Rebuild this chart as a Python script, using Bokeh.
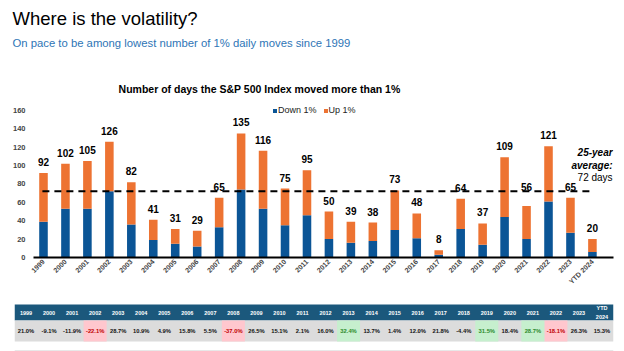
import math
from bokeh.plotting import figure
from bokeh.models import ColumnDataSource, Range1d, FixedTicker, Legend, LegendItem
from bokeh.layouts import column
from bokeh.core.properties import value
from bokeh.embed import file_html
from bokeh.resources import INLINE

# ---------------- data ----------------
years = ["1999", "2000", "2001", "2002", "2003", "2004", "2005", "2006", "2007",
         "2008", "2009", "2010", "2011", "2012", "2013", "2014", "2015", "2016",
         "2017", "2018", "2019", "2020", "2021", "2022", "2023", "YTD 2024"]
down_days = [39, 53, 53, 72, 36, 19, 15, 12, 33, 74, 53, 35, 46, 20, 16, 18, 30,
             21, 3, 31, 14, 44, 20, 61, 27, 6]
up_days = [53, 49, 52, 54, 46, 22, 16, 17, 32, 61, 63, 40, 49, 30, 23, 20, 43,
           27, 5, 33, 23, 65, 36, 60, 38, 14]
total_days = [92, 102, 105, 126, 82, 41, 31, 29, 65, 135, 116, 75, 95, 50, 39, 38,
              73, 48, 8, 64, 37, 109, 56, 121, 65, 20]
avg_days = 72
y_ticks = [0, 20, 40, 60, 80, 100, 120, 140, 160]

table_years = years[:-1] + ["YTD\n2024"]
returns = [21.0, -9.1, -11.9, -22.1, 28.7, 10.9, 4.9, 15.8, 5.5, -37.0, 26.5, 15.1,
           2.1, 16.0, 32.4, 13.7, 1.4, 12.0, 21.8, -4.4, 31.5, 18.4, 28.7, -18.1,
           26.3, 15.3]
best_years = ["2013", "2019", "2021"]
worst_years = ["2002", "2008", "2022"]

FONT = value("Liberation Sans")
BLUE = "#0b5596"
ORANGE = "#ed7332"
W = 624

# ---------------- header ----------------
hdr = figure(width=W, height=98, output_backend="svg", toolbar_location=None,
             x_range=Range1d(0, W), y_range=Range1d(98, 0),
             x_axis_location=None, y_axis_location=None,
             min_border_left=0, min_border_right=0, min_border_top=0,
             min_border_bottom=0, frame_align=False)
hdr.outline_line_color = None
hdr.xgrid.visible = False
hdr.ygrid.visible = False
hdr.text(x=[12], y=[18], text=["Where is the volatility?"], text_font=FONT,
         text_font_size="18.5px", text_color="#000000", text_baseline="middle",
         text_align="left")
hdr.text(x=[12], y=[42], text=["On pace to be among lowest number of 1% daily moves since 1999"],
         text_font=FONT, text_font_size="11.3px", text_color="#2e75b6",
         text_baseline="middle", text_align="left")
hdr.text(x=[259], y=[88], text=["Number of days the S&P 500 Index moved more than 1%"],
         text_font=FONT, text_font_size="10.5px", text_font_style="bold",
         text_color="#000000", text_baseline="middle", text_align="center")

# ---------------- chart ----------------
xs = list(range(len(years)))
label_y = [avg_days - 7 if avg_days - 20 < t < avg_days - 10 else t for t in total_days]
src = ColumnDataSource(dict(x=xs, down=down_days, up=up_days, total=total_days,
                            label=[str(t) for t in total_days], label_y=label_y))

p = figure(width=W, height=192, output_backend="svg", toolbar_location=None,
           x_range=Range1d(-0.455, 25.96), y_range=Range1d(0, 170.8),
           min_border_left=33, min_border_right=11, min_border_top=2,
           min_border_bottom=32, frame_align=False)
p.outline_line_color = None
p.xgrid.visible = False
p.ygrid.visible = False

bars = p.vbar_stack(["down", "up"], x="x", width=0.39, color=[BLUE, ORANGE],
                    line_color=None, source=src)

p.segment(x0=[-0.05], y0=[avg_days], x1=[24.95], y1=[avg_days],
          line_color="#000000", line_width=2, line_dash="7 5")

p.text(x="x", y="label_y", text="label", source=src, text_font=FONT,
       text_font_size="10px", text_font_style="bold", text_color="#000000",
       text_align="center", text_baseline="alphabetic", y_offset=-11)

xr = 25.92
p.text(x=[xr], y=[avg_days], text=["25-year"], text_font=FONT, text_font_size="10px",
       text_font_style="bold italic", text_align="right", text_baseline="middle",
       y_offset=-39)
p.text(x=[xr], y=[avg_days], text=["average:"], text_font=FONT, text_font_size="10px",
       text_font_style="bold italic", text_align="right", text_baseline="middle",
       y_offset=-26)
p.text(x=[xr], y=[avg_days], text=["72 days"], text_font=FONT, text_font_size="10px",
       text_align="right", text_baseline="middle", y_offset=-14)

p.xaxis.ticker = FixedTicker(ticks=xs)
p.xaxis.major_label_overrides = {i: y for i, y in enumerate(years)}
p.xaxis.major_label_orientation = math.pi / 4
p.xaxis.major_label_text_font = "Liberation Sans"
p.xaxis.major_label_text_font_size = "7px"
p.xaxis.major_label_text_font_style = "bold"
p.xaxis.major_label_standoff = 3
p.xaxis.axis_line_width = 2
p.xaxis.axis_line_color = "#000000"
p.xaxis.major_tick_line_color = None
p.xaxis.minor_tick_line_color = None
p.xaxis.major_tick_out = 0
p.xaxis.major_tick_in = 0
p.xaxis.minor_tick_out = 0

p.yaxis.ticker = FixedTicker(ticks=y_ticks)
p.yaxis.major_label_text_font = "Liberation Sans"
p.yaxis.major_label_text_font_size = "7.5px"
p.yaxis.major_label_text_font_style = "bold"
p.yaxis.major_label_standoff = 8
p.yaxis.axis_line_color = None
p.yaxis.major_tick_line_color = None
p.yaxis.minor_tick_line_color = None
p.yaxis.major_tick_out = 0
p.yaxis.major_tick_in = 0
p.yaxis.minor_tick_out = 0

legend = Legend(items=[LegendItem(label="Down 1%", renderers=[bars[0]]),
                       LegendItem(label="Up 1%", renderers=[bars[1]])],
                orientation="horizontal", location=(239, 142),
                glyph_width=5, glyph_height=5, label_height=10, label_width=10,
                label_standoff=1, spacing=6, padding=0, margin=0,
                border_line_color=None, background_fill_alpha=0,
                label_text_font="Liberation Sans", label_text_font_size="9px",
                label_text_color="#222222")
p.add_layout(legend, "center")

# ---------------- table ----------------
n = len(table_years)
cx = [i + 0.5 for i in range(n)]
cell_color = ["#c00000" if y in worst_years else ("#2a8a2a" if y in best_years else "#111111")
              for y in years]
cell_text = [f"{r:.1f}%" for r in returns]

t = figure(width=W, height=61, output_backend="svg", toolbar_location=None,
           x_range=Range1d(0, n), y_range=Range1d(61, 0),
           x_axis_location=None, y_axis_location=None,
           min_border_left=14, min_border_right=11, min_border_top=0,
           min_border_bottom=0, frame_align=False)
t.outline_line_color = None
t.xgrid.visible = False
t.ygrid.visible = False

t.quad(left=[0], right=[n], top=[14], bottom=[30], fill_color="#1b587c", line_color=None)
t.quad(left=[0], right=[n], top=[30], bottom=[51], fill_color="#dcdcdc", line_color=None)
hl_left = [i for i, y in enumerate(years) if y in worst_years]
t.quad(left=hl_left, right=[i + 1 for i in hl_left], top=30, bottom=51,
       fill_color="#ffc7ce", line_color=None)
hg_left = [i for i, y in enumerate(years) if y in best_years]
t.quad(left=hg_left, right=[i + 1 for i in hg_left], top=30, bottom=51,
       fill_color="#c6efce", line_color=None)
t.segment(x0=[0], y0=[60], x1=[n], y1=[60], line_color="#e8e8e8", line_width=1)

t.text(x=cx, y=[22] * n, text=table_years, text_font=FONT, text_font_size="5.5px",
       text_font_style="bold", text_color="#ffffff", text_align="center",
       text_baseline="middle", text_line_height=1.5)
t.text(x=cx, y=[40.5] * n, text=cell_text, text_font=FONT, text_font_size="5.8px",
       text_font_style="bold", text_color=cell_color, text_align="center",
       text_baseline="middle")

layout = column(hdr, p, t, spacing=0)
open("out.html", "w").write(file_html(layout, INLINE))
